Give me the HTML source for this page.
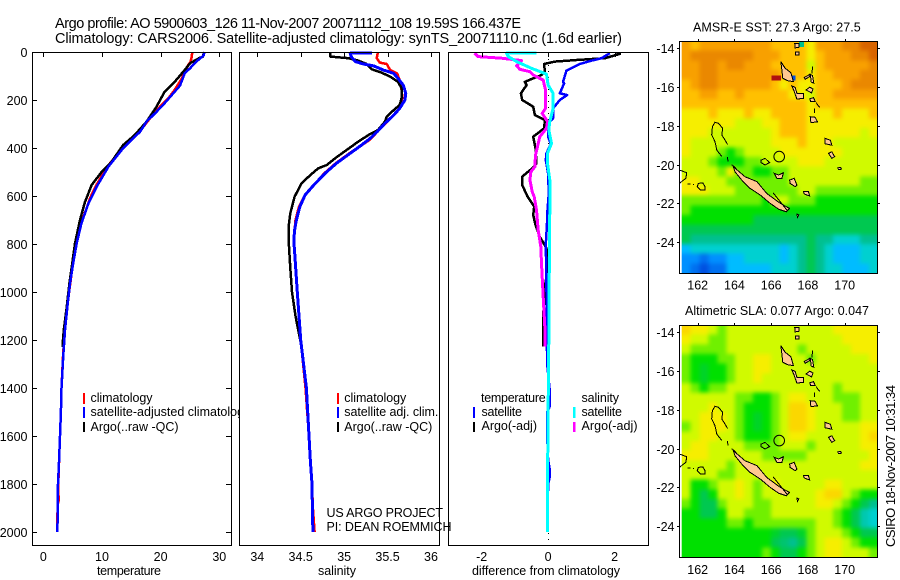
<!DOCTYPE html>
<html>
<head>
<meta charset="utf-8">
<title>Argo profile</title>
<style>
html,body{margin:0;padding:0;background:#fff;}
svg{display:block;}
text{font-family:"Liberation Sans",sans-serif;fill:#000;font-size:12.5px;}
</style>
</head>
<body>
<svg id="fig" width="900" height="580" viewBox="0 0 900 580" xmlns="http://www.w3.org/2000/svg">
<defs>
<clipPath id="clip-sst"><rect x="679.5" y="41.5" width="198" height="232"/></clipPath>
<clipPath id="clip-sla"><rect x="679.5" y="325.5" width="198" height="232"/></clipPath>
<clipPath id="clip-sst-img"><rect x="681.7" y="41" width="196" height="232"/></clipPath>
<clipPath id="clip-sla-img"><rect x="681.7" y="325" width="196" height="232"/></clipPath>
<filter id="map-smooth" filterUnits="userSpaceOnUse" x="640" y="0" width="260" height="580" color-interpolation-filters="sRGB"><feGaussianBlur stdDeviation="2.2"/></filter>
</defs>
<rect x="0" y="0" width="900" height="580" fill="#fff"/>
<text x="55" y="28" style="font-size:14.5px" textLength="466" lengthAdjust="spacing">Argo profile: AO 5900603_126 11-Nov-2007 20071112_108 19.59S 166.437E</text>
<text x="55" y="43" style="font-size:14.5px" textLength="567" lengthAdjust="spacing">Climatology: CARS2006. Satellite-adjusted climatology: synTS_20071110.nc (1.6d earlier)</text>

<g id="p1"></g>
<g>
<rect x="83" y="393" width="2" height="11" fill="#f00"/>
<rect x="83" y="407" width="2" height="11" fill="#00f"/>
<rect x="83" y="422" width="2" height="10" fill="#000"/>
<text x="90.5" y="402" textLength="62" lengthAdjust="spacing">climatology</text>
<text x="90.5" y="416">satellite-adjusted climatology</text>
<text x="90.5" y="431" textLength="88" lengthAdjust="spacing">Argo(..raw -QC)</text>
</g>
<g id="p2"></g>
<g>
<rect x="337" y="393" width="2" height="11" fill="#f00"/>
<rect x="337" y="407" width="2" height="11" fill="#00f"/>
<rect x="337" y="422" width="2" height="10" fill="#000"/>
<text x="344.3" y="402" textLength="62" lengthAdjust="spacing">climatology</text>
<text x="344.3" y="416" textLength="94" lengthAdjust="spacing">satellite adj. clim.</text>
<text x="344.3" y="431" textLength="88" lengthAdjust="spacing">Argo(..raw -QC)</text>
</g>
<g id="p3"></g>
<text x="326.5" y="517" textLength="116.5" lengthAdjust="spacing">US ARGO PROJECT</text>
<text x="326.5" y="531" textLength="125" lengthAdjust="spacing">PI: DEAN ROEMMICH</text>
<g>
<text x="481" y="402" textLength="64.7" lengthAdjust="spacing">temperature</text>
<rect x="473" y="407" width="2" height="11" fill="#00f"/>
<text x="481.5" y="416" textLength="40.5" lengthAdjust="spacing">satellite</text>
<rect x="473" y="422" width="2" height="10" fill="#000"/>
<text x="481.5" y="430" textLength="55.5" lengthAdjust="spacing">Argo(-adj)</text>
<text x="581.5" y="402" textLength="37.5" lengthAdjust="spacing">salinity</text>
<rect x="573" y="407" width="2.5" height="11" fill="#0ff"/>
<text x="581.5" y="416" textLength="40.5" lengthAdjust="spacing">satellite</text>
<rect x="573" y="422" width="2.5" height="10" fill="#f0f"/>
<text x="581.5" y="430" textLength="56" lengthAdjust="spacing">Argo(-adj)</text>
</g>
<text x="97" y="575" textLength="64" lengthAdjust="spacing">temperature</text>
<text x="318" y="575" textLength="38" lengthAdjust="spacing">salinity</text>
<text x="472" y="575" textLength="148" lengthAdjust="spacing">difference from climatology</text>

<text x="693" y="31.5" textLength="167.7" lengthAdjust="spacing">AMSR-E SST: 27.3 Argo: 27.5</text>
<g id="m1"></g>
<text x="685" y="315" textLength="184" lengthAdjust="spacing">Altimetric SLA: 0.077 Argo: 0.047</text>
<g id="m2"></g>
<text transform="translate(895,547) rotate(-90)" textLength="162" lengthAdjust="spacing" style="font-size:13px">CSIRO 18-Nov-2007 10:31:34</text>
</svg>

<script>
// ---------- profile data ----------
const depthTicks = [0,200,400,600,800,1000,1200,1400,1600,1800,2000];
const tempTicks = [0,10,20,30];
const salTicks = [34,34.5,35,35.5,36];
const salTickLabels = ['34','34.5','35','35.5','36'];
const diffTicks = [-2,0,2];
const diffTickLabels = ['-2','0','2'];

const tempClimDepth = [0,20,40,54,110,158,193,228,276,332,401,478,561,610,650,714,797,880,964,1061,1158,1270,1400,1500,1600,1700,1800,1870,1880,1950,2000];
const tempClim = [25.4,25.3,25.1,24.7,23.6,22.4,21.3,19.9,18.2,16.4,13.5,10.9,8.9,7.95,7.4,6.4,5.6,5.05,4.6,4.05,3.65,3.35,3.1,3,2.85,2.7,2.55,2.6,2.5,2.35,2.4];
const tempArgoDepth = [0,20,25,47,75,124,165,228,290,346,388,457,499,554,624,700,797,894,964,1061,1158,1214,1230];
const tempArgo = [27.4,27.2,26.6,25,24.1,22.4,20.7,19.3,17.6,15.6,13.6,11.65,9.95,8.25,7.1,6.25,5.4,4.85,4.45,4.0,3.5,3.3,3.3];
const tempSatDepth = [0,15,40,68,89,140,179,221,249,290,332,401,478,561,630,714,797,880,964,1061,1158,1270,1400,1500,1600,1700,1800,1900,2000];
const tempSat = [27.5,27.3,26.1,25,24.1,23.3,21.9,20.4,19.3,17.6,16.5,13.6,11.1,9.1,7.7,6.5,5.7,5.1,4.55,4.1,3.7,3.4,3.1,3,2.85,2.7,2.5,2.45,2.4];

const salClimDepth = [0,26,44,50,75,89,117,158,186,214,249,300,367,422,464,506,554,596,644,700,742,783,1000,1200,1400,1500,1600,1700,1800,1900,2000];
const salClim = [35.39,35.375,35.41,35.49,35.53,35.61,35.64,35.66,35.67,35.66,35.61,35.47,35.29,35.06,34.9,34.77,34.65,34.55,34.48,34.44,34.43,34.42,34.46,34.5,34.555,34.575,34.595,34.61,34.63,34.64,34.66];
const salArgoDepth = [0,19,26,36,50,72,86,103,124,151,193,221,242,269,290,325,346,374,408,439,471,485,513,547,603,672,728,783,900,1000,1100,1230];
const salArgo = [34.84,34.84,35.05,35.16,35.26,35.32,35.43,35.53,35.62,35.66,35.66,35.64,35.57,35.49,35.47,35.39,35.28,35.16,35.03,34.91,34.8,34.7,34.61,34.51,34.43,34.38,34.36,34.36,34.38,34.4,34.44,34.51];
const salSatDepth = [5,5,19,40,50,58,75,89,110,138,172,200,235,263,297,332,360,388,422,464,506,554,596,644,700,742,783,1000,1200,1400,1500,1600,1700,1800,1900,2000];
const salSat = [35.32,35.07,35.08,35.13,35.22,35.34,35.45,35.57,35.62,35.68,35.71,35.7,35.64,35.57,35.47,35.38,35.3,35.2,35.07,34.91,34.78,34.65,34.55,34.49,34.45,34.43,34.42,34.46,34.5,34.565,34.58,34.595,34.61,34.63,34.635,34.64];

const diffTempArgoDepth = [5,8,26,33,40,50,82,96,124,138,172,200,228,263,283,318,353,401,464,485,519,554,603,644,679,721,770,818,867,936,978,1046,1090,1228];
const diffTempArgo = [2.06,2.16,1.71,0.9,0.2,-0.12,-0.1,-0.2,-0.7,-0.65,-0.82,-0.78,-0.45,-0.4,-0.1,-0.12,-0.45,-0.38,-0.35,-0.48,-0.78,-0.78,-0.62,-0.42,-0.45,-0.38,-0.25,-0.05,-0.03,-0.05,-0.1,-0.12,-0.15,-0.15];
const diffTempSatDepth = [5,26,36,50,78,124,131,172,179,200,235,276,297,353,383,422,450,506,589,658,700,800,900,1000,1100,1300,1400,1480,1500,1600,1700,1740,1770,1800,2000];
const diffTempSat = [1.86,1.61,1.31,0.95,0.55,0.45,0.48,0.35,0.57,0.35,0.15,0.15,0,0,0.08,-0.05,-0.07,0,0.02,-0.02,-0.03,-0.07,-0.06,-0.05,-0.05,-0.03,0.04,0.04,-0.03,-0.03,0,0.05,0.05,0,-0.02];
const diffSalArgoDepth = [5,19,26,36,58,72,82,96,117,158,235,256,290,318,353,394,429,478,499,533,582,603,658,742,811,881,963,1046,1144,1228];
const diffSalArgo = [-2.21,-2.11,-1.4,-0.8,-0.95,-0.85,-0.55,-0.45,-0.15,-0.08,-0.08,-0.18,-0.02,-0.05,-0.25,-0.32,-0.38,-0.4,-0.52,-0.55,-0.48,-0.42,-0.35,-0.3,-0.22,-0.2,-0.17,-0.14,-0.1,-0.1];
const diffSalSatDepth = [5,5,19,40,68,92,138,172,235,290,325,381,422,464,533,658,800,1000,1200,1500,1800,2000];
const diffSalSat = [-0.35,-1.25,-1.2,-0.95,-0.5,-0.05,0,0.15,0.15,0.05,0.02,0.1,-0.02,-0.02,0.05,0.05,0.04,0.03,0.02,0,-0.02,-0.02];

// ---------- map data (colour level per cell, rows north to south) ----------
const sstLevels = [
[11,10,11,11,11,11,11,11,11,11,10,10,10,10,9,11,11,11,12,12,13,13],
[11,12,12,12,12,12,12,12,11,11,11,10,10,10,9,10,11,11,11,12,12,13],
[11,11,12,12,11,12,12,11,11,11,10,10,10,10,8,10,11,11,11,11,11,12],
[11,11,12,12,11,11,11,11,11,11,11,10,10,10,9,10,10,11,11,11,12,12],
[10,11,12,12,11,11,11,11,11,11,10,9,10,9,9,10,10,10,11,12,12,12],
[10,10,11,11,10,10,11,10,10,10,10,10,9,9,8,10,10,11,11,11,11,11],
[10,10,10,10,10,10,10,10,10,10,10,10,10,10,9,10,10,10,10,10,10,10],
[9,9,9,10,9,9,9,10,9,9,10,10,10,10,9,9,9,10,9,9,9,10],
[9,9,9,9,9,9,8,8,8,9,9,10,10,10,9,9,9,9,9,9,9,9],
[9,9,9,8,8,8,8,8,8,8,9,10,10,10,9,9,9,9,9,9,8,9],
[9,8,8,8,8,8,8,8,8,8,9,9,9,10,9,9,9,8,8,8,8,8],
[9,8,8,8,7,6,7,8,8,8,8,9,9,9,9,9,9,9,8,8,8,8],
[8,8,8,7,6,6,6,7,7,8,8,8,8,9,9,9,8,8,8,8,8,8],
[8,8,8,8,7,9,7,7,6,6,7,7,8,8,8,8,8,8,8,8,8,8],
[9,9,8,8,8,7,7,7,7,7,7,7,8,8,8,8,8,8,8,8,7,7],
[9,9,9,8,8,8,7,7,7,7,7,7,7,8,8,7,7,7,7,7,7,7],
[7,7,7,7,7,7,7,7,7,6,8,8,7,7,7,6,6,6,6,6,6,6],
[7,6,6,6,6,6,6,6,6,6,6,6,6,6,6,6,6,6,6,6,6,6],
[6,6,6,6,6,6,6,6,5,5,5,5,5,5,5,5,5,5,5,5,5,5],
[5,5,5,5,5,5,5,5,5,5,5,5,5,5,5,5,5,5,5,5,5,5],
[5,4,4,4,4,4,4,4,4,4,4,4,4,4,5,4,4,3,3,3,4,4],
[2,3,3,3,3,3,3,3,3,3,3,2,3,4,5,4,3,2,2,2,3,3],
[1,1,0.5,1,1,2,2,3,3,3,3,2,3,4,5,4,3,2,2,2,3,3],
[1,0.5,0,0.5,0.5,2,2,2,2,2,3,3,3,4,5,4,3,3,2,2,2,3]
];
const slaLevels = [
[9.5,9,9,8,7,8,8,8,8,8,8,8,8,8,8,8,8,9,9,9,9,9],
[9,8,8,7,7,8,8,8,8,8,8,8,8,8,8,8,8,8,9,9,9,9],
[8,7,7,7,7,8,8,8,8,8,8,8,8,7,8,8,8,8,8,9,9,9],
[7,6,6,6,7,7,8,8,9,9,8,8,8,8,7,8,8,8,8,8,8,9],
[7,6,5.5,6,6,7,8,8,9,9,8,8,8,8,8,8,8,8,8,8,8,8],
[7,6,5.5,6,6,7,8,8,9,8,8,8,8,8,8,8,8,8,8,8,8,8],
[8,7,6,7,7,8,8,8,8,8,8,8,8,8,8,8,8,7,8,8,8,8],
[8,8,8,8,8,8,7,7,6,6,7,8,9,9,8,8,8,7,7,7,8,8],
[8,8,8,9,8,8,7,6,6,6,7,8,9.5,9.5,9,8,8,8,7,7,8,8],
[8,8,9,9,9,8,7,6,5.5,6,7,8,9.5,9.5,9,8,8,8,7,7,8,8],
[7,8,9,9,9,8,7,6,5.5,6,7,8,9.5,9.5,9,8,8,8,8,8,9,9],
[8,8,9,9,8,8,7,6,6,6,7,8,9,9,8,8,8,8,8,8,9,9.5],
[8,9,9,8,8,8,8,7,7,7,7,8,8,8,7,8,8,8,8,8,9,9],
[9,9,9,8,8,8,8,8,8,7,7,7,7,7,8,8,8,8,8,8,8,9],
[8,8,8,8,8,7,8,8,8,8,8,8,8,8,8,8,8,8,8,8,9,9],
[8,8,8,8,7,7,8,8,8,8,8,8,8,8,8,8,8,8,8,8,8,8],
[8,6,6,7,8,8,9,8,7,8,9,8,8,8,8,8,9,9,8,8,8,8],
[8,6,5,6,8,8,9,8,7,8,8,8,8,8,8,9,9.5,9.5,8,7,6,6],
[7,6,5,5,7,8,8,8,7,7,8,8,8,8,8,9,9,8,7,6,5,4],
[6,6,5,5,6,8,8,7,7,7,8,8,8,8,8,8,8,7,6,5,3.5,3],
[6,6,6,6,6,7,7,6,7,7,7,7,7,7,7,8,8,7,6,5,3.5,3],
[6,6,6,6,6,6,6,6,6,6,5.5,5,5,5.5,7,8,8,8,7,6,5,5],
[6,6,6,6,6,6,6,6,6,6,5,4.5,4,5,7,8,9,9,8,7,6,6],
[6,6,6,6,6,6,6,6,6,7,6,5,5,6,7,8,9,9,8,8,8,7]
];
const sstSpotLon = [166.15,166.4,167.2,167.65];
const sstSpotLat = [-15.52,-15.52,-15.52,-13.8];
const sstSpotLevel = [14,14,0,4];
const colourRamp = ['#0050e0','#0090ff','#00bcff','#00d0d0','#00c090','#00c850','#00e000','#70f000','#d0fa00','#f6ee00','#ffc000','#f8a000','#ea8800','#d86400','#b01010'];
const lonTicks = [162,164,166,168,170];
const latTicks = [-14,-16,-18,-20,-22,-24];
const floatLon = 166.437;
const floatLat = -19.59;

// island outlines in lon,lat
const islands = [
[[163.94,-20.11],[164.58,-20.63],[165.22,-20.88],[165.76,-21.49],[166.49,-22.0],[166.99,-22.26],[166.81,-22.43],[166.40,-22.30],[165.94,-22.0],[165.40,-21.57],[164.85,-21.23],[164.40,-20.8],[164.03,-20.37]],
[[166.52,-14.69],[166.76,-15.03],[167.07,-15.26],[167.21,-15.72],[166.89,-15.67],[166.63,-15.55],[166.58,-15.12]],
[[167.12,-15.94],[167.30,-16.01],[167.40,-16.32],[167.76,-16.32],[167.76,-16.58],[167.40,-16.62],[167.25,-16.22]],
[[168.12,-17.53],[168.39,-17.56],[168.52,-17.79],[168.16,-17.84]],
[[168.94,-18.65],[169.22,-18.74],[169.30,-19.0],[168.94,-18.93]],
[[169.12,-19.42],[169.30,-19.34],[169.45,-19.59],[169.30,-19.68]],
[[169.62,-20.17],[169.78,-20.14],[169.82,-20.24],[169.66,-20.26]],
[[165.45,-19.77],[165.67,-19.68],[165.91,-19.9],[165.67,-20.02],[165.45,-19.9]],
[[166.16,-20.45],[166.40,-20.54],[166.67,-20.42],[166.58,-20.71],[166.31,-20.71]],
[[167.0,-20.8],[167.25,-20.71],[167.4,-21.06],[167.3,-21.14],[167.03,-20.97]],
[[167.76,-21.4],[168.03,-21.4],[168.09,-21.62],[167.8,-21.52]],
[[167.4,-22.55],[167.5,-22.6],[167.43,-22.72]],
[[167.28,-13.75],[167.5,-13.75],[167.5,-13.95],[167.3,-13.98]],
[[167.33,-14.2],[167.5,-14.2],[167.5,-14.35],[167.33,-14.35]],
[[167.8,-15.5],[168.1,-15.35],[168.1,-15.45],[167.85,-15.6]],
[[168.13,-15.35],[168.25,-15.4],[168.32,-15.8],[168.18,-15.75]],
[[167.9,-16.15],[168.1,-16.0],[168.27,-16.1],[168.2,-16.3]],
[[168.1,-16.6],[168.3,-16.55],[168.4,-16.75],[168.15,-16.75]],
[[161.0,-20.28],[161.4,-20.42],[161.36,-20.71],[161.0,-20.97]],
[[162.04,-20.97],[162.27,-20.94],[162.4,-21.14],[162.4,-21.31],[162.16,-21.31],[161.98,-21.14]]
];
const islandFillFlags = [1,1,1,1,1,1,1,0,1,1,1,1,1,1,1,1,1,1,0,0];
const reefLines = [
[[163.62,-18.96],[163.54,-18.82],[163.31,-18.47],[163.36,-18.13],[163.13,-17.87],[162.94,-17.82],[162.8,-18.04],[162.76,-18.47],[162.94,-18.82],[163.04,-19.25],[163.31,-19.59]],
[[163.62,-19.6],[163.65,-19.85]],
[[168.25,-14.95],[168.22,-15.3]],
[[168.45,-16.8],[168.55,-16.95],[168.65,-17.05]],
[[168.35,-17.1],[168.35,-17.35]],
[[161.45,-21.0],[161.6,-21.0]],
[[161.75,-21.0],[161.8,-21.05]],
[[163.85,-20.0],[164.1,-20.2]],
[[166.1,-21.45],[166.9,-22.4]]
];

// ---------- helpers ----------
const NS = 'http://www.w3.org/2000/svg';
function mk(tag, attrs, parent){
  const el = document.createElementNS(NS, tag);
  for (const k in attrs) el.setAttribute(k, attrs[k]);
  parent.appendChild(el);
  return el;
}
function lin(d0, p0, d1, p1){ return v => p0 + (v - d0) * (p1 - p0) / (d1 - d0); }
const yDepth = lin(0, 52, 2000, 532);
function pts(xs, ds, xf){ return xs.map((v,i)=> xf(v).toFixed(1)+','+yDepth(ds[i]).toFixed(1)).join(' '); }

function panelFrame(g, left, right){
  const r = mk('rect',{x:left+0.5,y:52.5,width:right-left,height:493,fill:'#fff',stroke:'none'},g);
  
  
}
function panelBorder(g, left, right){
  const r = mk('rect',{x:left+0.5,y:52.5,width:right-left,height:493,fill:'none',stroke:'#000','stroke-width':1,'shape-rendering':'crispEdges'},g);
  
  
}
function xTicks(g, vals, labels, xf){
  vals.forEach((v,i)=>{
    const t = mk('line',{x1:Math.round(xf(v))+0.5,x2:Math.round(xf(v))+0.5,y1:52,y2:57,stroke:'#000','shape-rendering':'crispEdges'},g);
    
    
    const l = mk('text',{x:xf(v),y:561,'text-anchor':'middle'},g);
    
    
    l.textContent = labels[i];
  });
}
function series(g, xs, ds, xf, colour, width){
  const p = mk('polyline',{points:pts(xs,ds,xf),fill:'none',stroke:colour,'stroke-width':width,'shape-rendering':'crispEdges','stroke-linejoin':'round'},g);
  
  
}

// ---------- temperature panel ----------
const p1 = document.getElementById('p1');
const xT = lin(0, 43.3, 30, 219.3);
panelFrame(p1, 32, 231);
series(p1, tempClim, tempClimDepth, xT, '#f00', 2.5);
series(p1, tempArgo, tempArgoDepth, xT, '#000', 2.5);
series(p1, tempSat, tempSatDepth, xT, '#00f', 2.5);
panelBorder(p1, 32, 231);
depthTicks.forEach(d=>{
  const y = Math.round(yDepth(d))+0.5;
  const a = mk('line',{x1:32,x2:37,y1:y,y2:y,stroke:'#000','shape-rendering':'crispEdges'},p1);
  
  
  const b = mk('line',{x1:226,x2:231,y1:y,y2:y,stroke:'#000','shape-rendering':'crispEdges'},p1);
  
  
  const l = mk('text',{x:27.5,y:y+4.5,'text-anchor':'end'},p1);
  
  
  l.textContent = String(d);
});
xTicks(p1, tempTicks, tempTicks.map(String), xT);

// ---------- salinity panel ----------
const p2 = document.getElementById('p2');
const xS = lin(34, 257.3, 36, 431);
panelFrame(p2, 239, 439);
series(p2, salClim, salClimDepth, xS, '#f00', 2.5);
series(p2, salArgo, salArgoDepth, xS, '#000', 2.5);
series(p2, salSat, salSatDepth, xS, '#00f', 3);
panelBorder(p2, 239, 439);
xTicks(p2, salTicks, salTickLabels, xS);

// ---------- difference panel ----------
const p3 = document.getElementById('p3');
const xD = lin(-2, 481.7, 2, 614.6);
panelFrame(p3, 448, 648);
const zero = mk('line',{x1:Math.round(xD(0))+0.5,x2:Math.round(xD(0))+0.5,y1:53,y2:545,stroke:'#000','stroke-dasharray':'1 5','shape-rendering':'crispEdges'},p3);


series(p3, diffTempArgo, diffTempArgoDepth, xD, '#000', 2.5);
series(p3, diffTempSat, diffTempSatDepth, xD, '#00f', 2.5);
series(p3, diffSalArgo, diffSalArgoDepth, xD, '#f0f', 3);
series(p3, diffSalSat, diffSalSatDepth, xD, '#0ff', 3);
panelBorder(p3, 448, 648);
xTicks(p3, diffTicks, diffTickLabels, xD);

// ---------- maps ----------
const xLon = lin(162, 697.7, 170, 844.7);
function mixColour(a, b, f){
  const pa = [1,3,5].map(i=>parseInt(a.substr(i,2),16));
  const pb = [1,3,5].map(i=>parseInt(b.substr(i,2),16));
  return 'rgb('+pa.map((v,i)=>Math.round(v+(pb[i]-v)*f)).join(',')+')';
}
function drawMap(g, levels, top, bottom, lat14, clipId, imgClipId, tickY, spotLon, spotLat, spotLevel){
  const yLat = lin(-14, lat14, -24, lat14 + 193.8);
  const imgLeft = 681.7, imgRight = 877.7;
  const cw = (imgRight - imgLeft) / levels[0].length;
  const ch = (bottom - top) / levels.length;
  const clipWrap = mk('g',{'clip-path':'url(#'+imgClipId+')'},g);
  
  
  const field = mk('g',{filter:'url(#map-smooth)'},clipWrap);
  
  
  const pad = 14;
  levels.forEach((row, r)=>{
    row.forEach((v, c)=>{
      const lo = Math.floor(v), hi = Math.min(lo + 1, colourRamp.length - 1);
      const col = (v === lo) ? colourRamp[lo] : mixColour(colourRamp[lo], colourRamp[hi], v - lo);
      const x0 = imgLeft + c*cw - (c === 0 ? pad : 0);
      const x1 = imgLeft + (c+1)*cw + (c === row.length-1 ? pad : 0);
      const y0 = top + r*ch - (r === 0 ? pad : 0);
      const y1 = top + (r+1)*ch + (r === levels.length-1 ? pad : 0);
      const cell = mk('rect',{x:x0.toFixed(2),y:y0.toFixed(2),width:(x1-x0+0.5).toFixed(2),height:(y1-y0+0.5).toFixed(2),fill:col,'shape-rendering':'crispEdges'},field);
      
      
    });
  });
  spotLon.forEach((lon,i)=>{
    const spot = mk('rect',{x:(xLon(lon)-2.3).toFixed(1),y:(yLat(spotLat[i])-2.5).toFixed(1),width:4.6,height:5,fill:colourRamp[spotLevel[i]],'shape-rendering':'crispEdges'},clipWrap);
    
    
  });
  const coast = mk('g',{'clip-path':'url(#'+clipId+')'},g);
  
  
  islands.forEach((isl,i)=>{
    const p = mk('polygon',{points:isl.map(q=>xLon(q[0]).toFixed(1)+','+yLat(q[1]).toFixed(1)).join(' '),fill:islandFillFlags[i]?'#ffc890':'none',stroke:'#000','stroke-width':1,'shape-rendering':'crispEdges'},coast);
    
    
  });
  reefLines.forEach(line=>{
    const p = mk('polyline',{points:line.map(q=>xLon(q[0]).toFixed(1)+','+yLat(q[1]).toFixed(1)).join(' '),fill:'none',stroke:'#000','stroke-width':1,'shape-rendering':'crispEdges'},coast);
    
    
  });
  const ring = mk('circle',{cx:xLon(floatLon).toFixed(1),cy:yLat(floatLat).toFixed(1),r:5.3,fill:'none',stroke:'#000','stroke-width':1},g);
  
  
  const frame = mk('rect',{x:679.5,y:top+0.5,width:198,height:bottom-top,fill:'none',stroke:'#000','shape-rendering':'crispEdges'},g);
  
  
  lonTicks.forEach(lon=>{
    const x = Math.round(xLon(lon))+0.5;
    const t = mk('line',{x1:x,x2:x,y1:top-2,y2:top+0.5,stroke:'#000','shape-rendering':'crispEdges'},g);
    
    
    const l = mk('text',{x:xLon(lon),y:tickY,'text-anchor':'middle'},g);
    
    
    l.textContent = String(lon);
  });
  latTicks.forEach(lat=>{
    const y = Math.round(yLat(lat))+0.5;
    const a = mk('line',{x1:677,x2:680,y1:y,y2:y,stroke:'#000','shape-rendering':'crispEdges'},g);
    
    
    const b = mk('line',{x1:877,x2:880,y1:y,y2:y,stroke:'#000','shape-rendering':'crispEdges'},g);
    
    
    const l = mk('text',{x:674.5,y:y+4.5,'text-anchor':'end'},g);
    
    
    l.textContent = String(lat);
  });
}
drawMap(document.getElementById('m1'), sstLevels, 41, 273, 48.3, 'clip-sst', 'clip-sst-img', 289.5, sstSpotLon, sstSpotLat, sstSpotLevel);
drawMap(document.getElementById('m2'), slaLevels, 325, 557, 332.3, 'clip-sla', 'clip-sla-img', 574, [], [], []);
</script>
</body>
</html>
